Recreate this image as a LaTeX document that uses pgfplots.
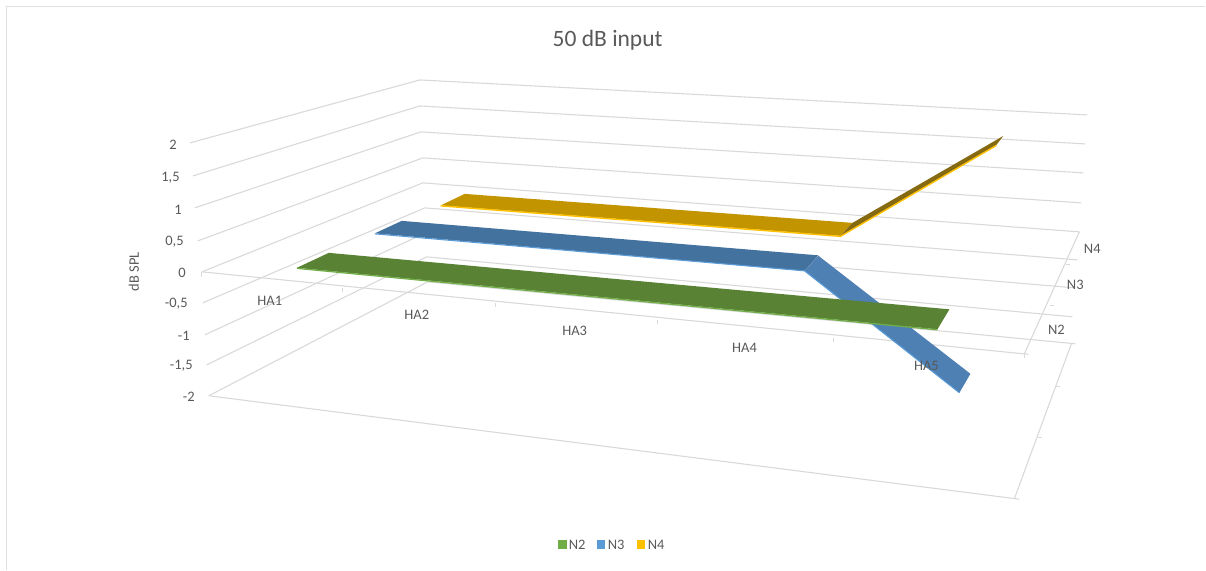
\documentclass[border=0pt]{standalone}
\usepackage{pgfplots}
\pgfplotsset{compat=1.18}
\usepackage{fontspec}
\setmainfont{Carlito}
\definecolor{gridc}{HTML}{D9D9D9}
\definecolor{framec}{HTML}{E0E0E0}
\definecolor{textc}{HTML}{595959}
\definecolor{greentop}{HTML}{5A8235}
\definecolor{greenlip}{HTML}{70AD47}
\definecolor{bluetop}{HTML}{44729F}
\definecolor{bluefall}{HTML}{4E80B4}
\definecolor{bluelip}{HTML}{5B9BD5}
\definecolor{goldtop}{HTML}{C29400}
\definecolor{goldrise}{HTML}{866A12}
\definecolor{goldlip}{HTML}{FFC000}
\tikzset{
  grid line/.style={draw=gridc, line width=1.1pt},
  tick mark/.style={draw=gridc, line width=1pt},
  lab/.style={font=\fontsize{14.5}{16}\selectfont, text=textc, inner sep=0pt},
}
\begin{document}
\begin{tikzpicture}
% Flat canvas axis: every coordinate is the projected position of the 3-D chart geometry.
\begin{axis}[
  at={(0,0)}, anchor=south west,
  width=1206pt, height=570pt, scale only axis,
  xmin=0, xmax=1206, ymin=0, ymax=570, y dir=reverse,
  axis lines=none, clip=false,
]
% invisible corners keep the canvas at its full size
\addplot[draw=none] coordinates {(0,0) (1206,570)};
% outer chart frame
\addplot[draw=framec, line width=1.5pt] coordinates {(6.5,570) (6.5,6.5) (1206,6.5)};

% side wall: value gridlines from 2 down to -2
\addplot[grid line] coordinates {(190,143) (420,80)};
\addplot[grid line] coordinates {(193,176) (420,106)};
\addplot[grid line] coordinates {(195,208) (421,132)};
\addplot[grid line] coordinates {(198,241) (423,158)};
\addplot[grid line] coordinates {(202,272) (423,183)};
\addplot[grid line] coordinates {(203,303) (425,208)};
\addplot[grid line] coordinates {(205,335) (426,233)};
\addplot[grid line] coordinates {(207,365) (427,257)};
\addplot[grid line] coordinates {(209,396) (428,282)};
% back wall: value gridlines from 2 down to -2
\addplot[grid line] coordinates {(420,80) (1088,115)};
\addplot[grid line] coordinates {(420,106) (1086,144)};
\addplot[grid line] coordinates {(421,132) (1084,173)};
\addplot[grid line] coordinates {(423,158) (1082,203)};
\addplot[grid line] coordinates {(423,183) (1080,232)};
\addplot[grid line] coordinates {(425,208) (1078,260)};
\addplot[grid line] coordinates {(426,233) (1075,288)};
\addplot[grid line] coordinates {(427,257) (1073,317)};
\addplot[grid line] coordinates {(428,282) (1076,344)};
% floor outline
\addplot[grid line] coordinates {(209,396) (1020,499.5)};
\addplot[grid line] coordinates {(1015,499) (1072,344)};
\addplot[tick mark] coordinates {(1057,387) (1061,387)};
\addplot[tick mark] coordinates {(1039,438) (1043,438)};
% category axis on the zero plane
\addplot[grid line] coordinates {(202,272) (1029,354.5)};
\addplot[grid line] coordinates {(1025,354) (1080,232)};
\addplot[tick mark] coordinates {(202,272) (202,277)};
\addplot[tick mark] coordinates {(343,288) (343,292)};
\addplot[tick mark] coordinates {(496,303) (496,307)};
\addplot[tick mark] coordinates {(658,320) (658,324)};
\addplot[tick mark] coordinates {(834,338) (834,342)};
\addplot[tick mark] coordinates {(1025,354) (1025,358)};
\addplot[tick mark] coordinates {(1067,265) (1071,265)};
\addplot[tick mark] coordinates {(1051,306) (1055,306)};

% N4 ribbon
\addplot[fill=goldtop, draw=none] coordinates {(441,205.5) (465,194) (853,223) (841,236)} -- cycle;
\addplot[fill=goldrise, draw=none] coordinates {(841,236) (853,223) (1004,136) (997,145)} -- cycle;
\addplot[draw=goldlip, line width=1.4pt] coordinates {(441,206) (841,236.5) (997,145.5)};
% N3 ribbon
\addplot[fill=bluetop, draw=none] coordinates {(375,233.5) (402,221) (819,255.5) (805,271)} -- cycle;
\addplot[fill=bluefall, draw=none] coordinates {(805,271) (819,256) (971,374) (960,393)} -- cycle;
\addplot[draw=bluelip, line width=1.1pt] coordinates {(375,234) (805,271) (960,393)};
% N2 ribbon
\addplot[fill=greentop, draw=none] coordinates {(297,268) (329,253) (950,309.5) (938,329.5)} -- cycle;
\addplot[draw=greenlip, line width=1.3pt] coordinates {(297,268.5) (938,330)};

% value axis labels
\node[lab, anchor=east] at (axis cs:177,144.5) {2};
\node[lab, anchor=east] at (axis cs:180,177.5) {1,5};
\node[lab, anchor=east] at (axis cs:182,209.5) {1};
\node[lab, anchor=east] at (axis cs:184,241.5) {0,5};
\node[lab, anchor=east] at (axis cs:186,273) {0};
\node[lab, anchor=east] at (axis cs:188,304) {-0,5};
\node[lab, anchor=east] at (axis cs:190,336) {-1};
\node[lab, anchor=east] at (axis cs:193,366) {-1,5};
\node[lab, anchor=east] at (axis cs:195,397) {-2};
\node[lab, rotate=90] at (axis cs:134,272) {dB SPL};
% category labels
\node[lab] at (axis cs:270,301) {HA1};
\node[lab] at (axis cs:417,315) {HA2};
\node[lab] at (axis cs:575,331) {HA3};
\node[lab] at (axis cs:745,348) {HA4};
\node[lab] at (axis cs:927,366) {HA5};
% series depth labels
\node[lab] at (axis cs:1093,249) {N4};
\node[lab] at (axis cs:1076,285.5) {N3};
\node[lab] at (axis cs:1057,330) {N2};
% title
\node[font=\fontsize{23.5}{26}\selectfont, text=textc, inner sep=0pt] at (axis cs:608,40) {50 dB input};
% legend
\addplot[fill=greenlip, draw=none] coordinates {(558,540) (567,540) (567,549) (558,549)} -- cycle;
\addplot[fill=bluelip, draw=none] coordinates {(597,540) (605,540) (605,549) (597,549)} -- cycle;
\addplot[fill=goldlip, draw=none] coordinates {(637,540) (645,540) (645,549) (637,549)} -- cycle;
\node[lab, anchor=west] at (axis cs:569,545) {N2};
\node[lab, anchor=west] at (axis cs:608,545) {N3};
\node[lab, anchor=west] at (axis cs:648,545) {N4};
\end{axis}
\end{tikzpicture}
\end{document}
